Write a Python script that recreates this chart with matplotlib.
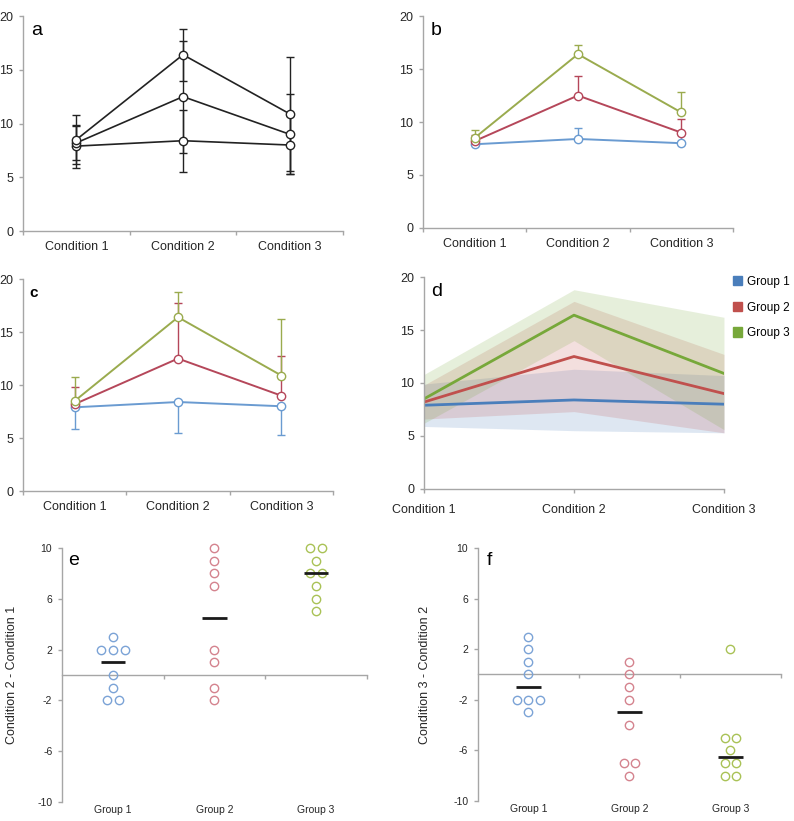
import matplotlib
matplotlib.use('Agg')
import matplotlib.pyplot as plt
import matplotlib.patches as patches
import matplotlib.transforms as mtransforms
import numpy as np

plt.rcParams['font.family'] = ['Liberation Sans', 'DejaVu Sans']
plt.rcParams['axes.unicode_minus'] = False

# data
conditions = ['Condition 1', 'Condition 2', 'Condition 3']
groups = ['Group 1', 'Group 2', 'Group 3']

mean_g1 = [7.9, 8.4, 8.0]
mean_g2 = [8.2, 12.5, 9.0]
mean_g3 = [8.5, 16.4, 10.9]

sd_g1 = [2.0, 2.9, 2.7]
sd_g2 = [1.6, 5.2, 3.7]
sd_g3 = [2.3, 2.4, 5.3]

se_g1 = [0.7, 1.0, 0.9]
se_g2 = [0.55, 1.85, 1.3]
se_g3 = [0.75, 0.85, 1.9]

# individual differences
diff21_g1 = [3, 2, 2, 2, 0, -1, -2, -2]
diff21_g2 = [10, 9, 8, 7, 2, 1, -1, -2]
diff21_g3 = [10, 10, 9, 8, 8, 7, 6, 5]

diff32_g1 = [3, 2, 1, 0, -2, -2, -2, -3]
diff32_g2 = [1, 0, -1, -2, -4, -7, -7, -8]
diff32_g3 = [2, -5, -5, -6, -7, -7, -8, -8]

means = [mean_g1, mean_g2, mean_g3]
sds = [sd_g1, sd_g2, sd_g3]
ses = [se_g1, se_g2, se_g3]

# colours
col_bc = ['#6A9BD1', '#B5475A', '#9AAB4E']
col_d = ['#4A7EBB', '#C0504D', '#77A83A']
col_dots = ['#7BA3D6', '#D4838E', '#A9C256']
spine_col = '#A6A6A6'
text_col = '#262626'

fig = plt.figure(figsize=(7.94, 8.21), dpi=100)


def style(ax, fs=9):
    for s in ['top', 'right']:
        ax.spines[s].set_visible(False)
    for s in ['left', 'bottom']:
        ax.spines[s].set_color(spine_col)
        ax.spines[s].set_linewidth(1)
    ax.tick_params(colors=spine_col, labelcolor=text_col, labelsize=fs,
                   length=3, width=1, direction='out', pad=4)


def cat_axis(ax):
    # ticks at boundaries, labels at centres
    ax.set_xlim(0, 3)
    ax.set_xticks([0, 1, 2, 3])
    ax.set_xticklabels([])
    ax.set_xticks([0.5, 1.5, 2.5], minor=True)
    ax.set_xticklabels(conditions, minor=True)
    ax.tick_params(axis='x', which='minor', length=0, pad=7,
                   labelsize=9, labelcolor=text_col)
    ax.set_ylim(0, 20)
    ax.set_yticks([0, 5, 10, 15, 20])


def letter(ax, s, **kw):
    ax.text(0.024, 0.97, s, transform=ax.transAxes, ha='left', va='top',
            fontsize=14, color='black', **kw)


xs = np.array([0.5, 1.5, 2.5])

# ---- a
ax = fig.add_axes([0.029, 0.7186, 0.403, 0.2619])
style(ax)
cat_axis(ax)
for m, sd in zip(means, sds):
    ax.errorbar(xs, m, yerr=sd, fmt='none', ecolor='#222222', elinewidth=1,
                capsize=3, capthick=1, zorder=2)
for m in means:
    ax.plot(xs, m, color='#222222', lw=1.2, marker='o', ms=6,
            mfc='white', mec='#222222', mew=1, zorder=3)
letter(ax, 'a')

# ---- b
ax = fig.add_axes([0.5327, 0.7223, 0.3904, 0.2582])
style(ax)
cat_axis(ax)
for m, se, c in zip(means, ses, col_bc):
    ax.errorbar(xs, m, yerr=[np.zeros(3), se], fmt='none', ecolor=c,
                elinewidth=1, capsize=3, capthick=1, zorder=2)
for m, c in zip(means, col_bc):
    ax.plot(xs, m, color=c, lw=1.4, marker='o', ms=6,
            mfc='white', mec=c, mew=1, zorder=3)
letter(ax, 'b')

# ---- c
ax = fig.add_axes([0.029, 0.4019, 0.3904, 0.2582])
style(ax)
cat_axis(ax)
directions = ['down', 'up', 'up']
for m, sd, c, d in zip(means, sds, col_bc, directions):
    if d == 'up':
        err = [np.zeros(3), sd]
    else:
        err = [sd, np.zeros(3)]
    ax.errorbar(xs, m, yerr=err, fmt='none', ecolor=c,
                elinewidth=1, capsize=3, capthick=1, zorder=2)
for m, c in zip(means, col_bc):
    ax.plot(xs, m, color=c, lw=1.4, marker='o', ms=6,
            mfc='white', mec=c, mew=1, zorder=3)
ax.text(0.022, 0.965, 'c', transform=ax.transAxes, ha='left', va='top',
        fontsize=11, fontweight='bold', color='black')

# ---- d
ax = fig.add_axes([0.534, 0.4044, 0.3778, 0.2582])
style(ax)
xd = np.arange(3)
for m, sd, c in zip(means, sds, col_d):
    m = np.array(m)
    sd = np.array(sd)
    ax.fill_between(xd, m - sd, m + sd, color=c, alpha=0.18, lw=0)
for m, c in zip(means, col_d):
    ax.plot(xd, m, color=c, lw=2)
ax.set_xlim(0, 2)
ax.set_xticks(xd)
ax.set_xticklabels(conditions)
ax.tick_params(axis='x', pad=8)
ax.set_ylim(0, 20)
ax.set_yticks([0, 5, 10, 15, 20])
handles = [patches.Patch(color=c, label=g) for c, g in zip(col_d, groups)]
ax.legend(handles=handles, loc='upper left', bbox_to_anchor=(1.03, 1.005),
          frameon=False, fontsize=8.5, handlelength=0.8, handleheight=0.8,
          handletextpad=0.35, labelspacing=1.15, borderpad=0, borderaxespad=0)
letter(ax, 'd')


# ---- e, f
def swarm(vals, step=0.115):
    vals = np.array(vals, dtype=float)
    off = np.zeros(len(vals))
    for v in np.unique(vals):
        idx = np.where(vals == v)[0]
        k = len(idx)
        off[idx] = (np.arange(k) - (k - 1) / 2) * step
    return off


def diff_panel(rect, data, ylabel, lab, label_x, lab_x):
    ax = fig.add_axes(rect)
    style(ax, fs=7.5)
    ax.spines['bottom'].set_position(('data', 0))
    ax.set_xlim(0, 3)
    ax.set_ylim(-10, 10)
    ax.set_yticks([-10, -6, -2, 2, 6, 10])
    ax.set_xticks([1, 2, 3])
    ax.set_xticklabels([])
    trans = mtransforms.blended_transform_factory(ax.transData, ax.transAxes)
    for i, (vals, c) in enumerate(zip(data, col_dots)):
        cx = i + 0.5
        ax.plot(cx + swarm(vals), vals, ls='none', marker='o', ms=6,
                mfc='none', mec=c, mew=1, zorder=3, clip_on=False)
        med = np.median(vals)
        ax.plot([cx - 0.12, cx + 0.12], [med, med], color='#1a1a1a', lw=2,
                solid_capstyle='butt', zorder=4)
        ax.text(cx, -0.012, groups[i], transform=trans, ha='center', va='top',
                fontsize=7.5, color=text_col)
    ax.set_ylabel(ylabel, fontsize=9, color=text_col)
    ax.yaxis.set_label_coords(label_x, 0.5)
    ax.text(lab_x, 0.985, lab, transform=ax.transAxes, ha='left', va='top',
            fontsize=14, color='black')
    return ax


diff_panel([0.0781, 0.02314, 0.3841, 0.3094],
           [diff21_g1, diff21_g2, diff21_g3],
           'Condition 2 - Condition 1', 'e', -0.145, 0.02)
diff_panel([0.602, 0.02436, 0.3816, 0.3082],
           [diff32_g1, diff32_g2, diff32_g3],
           'Condition 3 - Condition 2', 'f', -0.155, 0.03)

fig.savefig('out.png', dpi=100)
